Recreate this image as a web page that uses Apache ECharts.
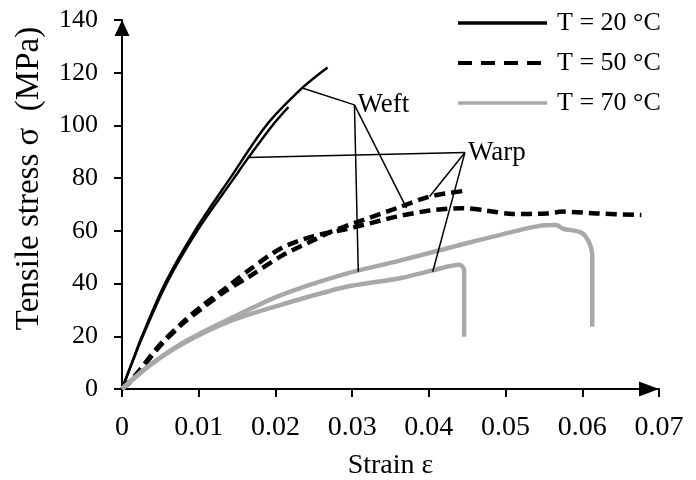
<!DOCTYPE html>
<html>
<head>
<meta charset="utf-8">
<title>Tensile stress vs strain</title>
<script src="https://cdn.jsdelivr.net/npm/echarts@6/dist/echarts.min.js"></script>
<style>
  html, body { margin: 0; padding: 0; background: #fff; }
  #main { width: 696px; height: 480px; }
</style>
</head>
<body>
<div id="main"></div>
<script>
// 数据 (strain, stress MPa)
var tempNames = ['T = 20 °C', 'T = 50 °C', 'T = 70 °C'];
var xTickLabels = ['0', '0.01', '0.02', '0.03', '0.04', '0.05', '0.06', '0.07'];
var yTickLabels = ['0', '20', '40', '60', '80', '100', '120', '140'];

var weft20 = [[0, 0], [0.0013, 10], [0.0026, 20], [0.0056, 40], [0.0095, 60], [0.0141, 80],
  [0.0188, 100], [0.0236, 114.5], [0.0268, 122]];
var warp20 = [[0, 0], [0.0027, 20], [0.0058, 40], [0.0098, 60], [0.0146, 80], [0.0164, 87.5],
  [0.0196, 100], [0.0217, 107]];

var warp50 = [[0, 0], [0.0017, 5], [0.0047, 16], [0.0078, 25], [0.0104, 31.5], [0.0134, 38],
  [0.0165, 45], [0.0208, 53.5], [0.025, 58], [0.029, 60.5], [0.0314, 62.2], [0.0358, 65.4],
  [0.0401, 67.7], [0.0444, 68.6], [0.0475, 67.7], [0.051, 66.4], [0.0553, 66.6], [0.0575, 67.3],
  [0.0618, 66.6], [0.0677, 66.0]];
var weft50 = [[0, 0], [0.0017, 4.5], [0.0047, 15.5], [0.0078, 24.5], [0.0104, 30.5], [0.0134, 37],
  [0.0165, 42.5], [0.0208, 50.5], [0.025, 56.5], [0.0271, 59.5], [0.0314, 64.1], [0.0358, 68.6],
  [0.0401, 73.0], [0.0444, 75.1]];

var weft70 = [[0, 0], [0.0034, 8.5], [0.0078, 17.3], [0.0143, 27], [0.0208, 35.7], [0.029, 43.6],
  [0.0362, 48.7], [0.0449, 55.3], [0.0492, 58.4], [0.0544, 61.9], [0.0566, 62.2], [0.0575, 60.8],
  [0.0599, 59.3], [0.0609, 55.5], [0.0613, 50.9], [0.0613, 23.6]];
var warp70 = [[0, 0], [0.0034, 8.5], [0.0078, 17], [0.0143, 26], [0.0208, 32], [0.029, 38.6],
  [0.0362, 42], [0.0405, 45], [0.044, 47.1], [0.0446, 45], [0.0446, 19.8]];

// 标注线
var weftHub = [0.0303, 107.8];
var weftEnds = [[0.0236, 114.1], [0.0308, 44.5], [0.0371, 68.6]];
var warpHub = [0.0447, 89.7];
var warpEnds = [[0.0164, 87.8], [0.0401, 73.0], [0.0405, 44.5]];

var FONT = '"Liberation Serif", "DejaVu Serif", serif';
var BLACK = '#000';
var GRAY = '#a8a8a8';

function curve(name, data, color, width, type) {
  return {
    name: name,
    type: 'line',
    data: data,
    smooth: 0.3,
    showSymbol: false,
    symbol: 'none',
    lineStyle: { color: color, width: width, type: type },
    itemStyle: { color: color },
    z: 3
  };
}

function annoLines(hub, ends) {
  var out = [];
  for (var i = 0; i < ends.length; i++) {
    out.push({
      type: 'line',
      data: [ends[i], hub],
      showSymbol: false,
      symbol: 'none',
      silent: true,
      lineStyle: { color: BLACK, width: 1.5 },
      z: 4
    });
  }
  return out;
}

var series = [
  curve(tempNames[0], weft20, BLACK, 2.5, 'solid'),
  curve(tempNames[0], warp20, BLACK, 2.5, 'solid'),
  curve(tempNames[1], warp50, BLACK, 4.5, [11, 6]),
  curve(tempNames[1], weft50, BLACK, 4.5, [11, 6]),
  curve(tempNames[2], weft70, GRAY, 4.5, 'solid'),
  curve(tempNames[2], warp70, GRAY, 4.5, 'solid')
].concat(annoLines(weftHub, weftEnds), annoLines(warpHub, warpEnds));

// Weft / Warp 文字
series.push({
  type: 'scatter',
  silent: true,
  symbolSize: 0,
  itemStyle: { color: BLACK, opacity: 1 },
  label: {
    show: true,
    position: 'right',
    distance: 3,
    color: BLACK,
    opacity: 1,
    fontFamily: FONT,
    fontSize: 27,
    formatter: function (p) { return p.data.text; }
  },
  data: [
    { value: weftHub, text: 'Weft' },
    { value: warpHub, text: 'Warp' }
  ],
  z: 5
});

var chart = echarts.init(document.getElementById('main'));
chart.setOption({
  animation: false,
  backgroundColor: '#fff',
  grid: { left: 122, right: 37, top: 20, bottom: 91, outerBoundsMode: 'none' },
  legend: {
    orient: 'vertical',
    left: 456,
    top: 10,
    padding: 0,
    itemWidth: 89,
    itemHeight: 22,
    itemGap: 14,
    selectedMode: false,
    itemStyle: { opacity: 0 },
    textStyle: { fontFamily: FONT, fontSize: 26, color: BLACK, padding: [0, 0, 0, 5] },
    data: [
      { name: tempNames[0], lineStyle: { color: BLACK, width: 3.5, type: 'solid' } },
      { name: tempNames[1], lineStyle: { color: BLACK, width: 4, type: [14, 9] } },
      { name: tempNames[2], lineStyle: { color: GRAY, width: 3.5, type: 'solid' } }
    ]
  },
  xAxis: {
    type: 'value',
    min: 0,
    max: 0.07,
    interval: 0.01,
    name: 'Strain ε',
    nameLocation: 'middle',
    nameGap: 63,
    nameTextStyle: { fontFamily: FONT, fontSize: 28, color: BLACK },
    axisLine: {
      lineStyle: { color: BLACK, width: 2 },
      symbol: ['none', 'triangle'],
      symbolSize: [15, 20],
      symbolOffset: [0, -10]
    },
    axisTick: { inside: false, length: 8, lineStyle: { color: BLACK, width: 2 } },
    axisLabel: {
      margin: 25,
      fontFamily: FONT,
      fontSize: 28,
      color: BLACK,
      formatter: function (v) { return xTickLabels[Math.round(v / 0.01)]; }
    },
    splitLine: { show: false }
  },
  yAxis: {
    type: 'value',
    min: 0,
    max: 140,
    interval: 20,
    name: 'Tensile stress σ  (MPa)',
    nameLocation: 'middle',
    nameGap: 76,
    nameTextStyle: { fontFamily: FONT, fontSize: 33, color: BLACK, padding: [0, 0, 0, 52] },
    axisLine: {
      lineStyle: { color: BLACK, width: 2 },
      symbol: ['none', 'triangle'],
      symbolSize: [15, 16],
      symbolOffset: [0, -8]
    },
    axisTick: { inside: false, length: 8, lineStyle: { color: BLACK, width: 2 } },
    axisLabel: {
      margin: 24,
      fontFamily: FONT,
      fontSize: 26,
      color: BLACK,
      formatter: function (v) { return yTickLabels[Math.round(v / 20)]; }
    },
    splitLine: { show: false }
  },
  series: series
});
</script>
</body>
</html>
